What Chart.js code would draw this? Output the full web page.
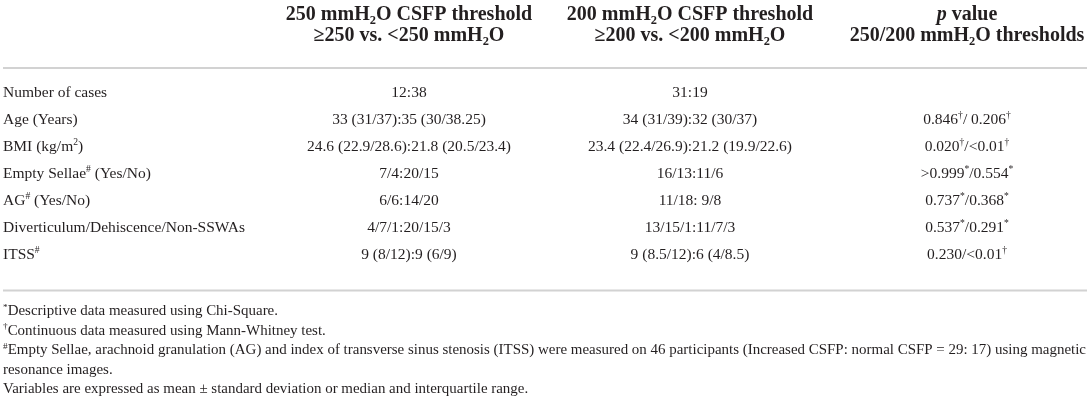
<!DOCTYPE html>
<html>
<head>
<meta charset="utf-8">
<script src="https://cdn.jsdelivr.net/npm/chart.js@4.4.1/dist/chart.umd.min.js"></script>
<style>
  html, body { margin: 0; padding: 0; background: #fff; }
  #wrap { width: 1091px; height: 402px; position: relative; }
</style>
</head>
<body>
<div id="wrap"><canvas id="tbl"></canvas></div>
<script>
// table content ({^x} = superscript, {_x} = subscript, {~x} = italic)
var rowLabels = [
  'Number of cases',
  'Age (Years)',
  'BMI (kg/m{^2})',
  'Empty Sellae{^#} (Yes/No)',
  'AG{^#} (Yes/No)',
  'Diverticulum/Dehiscence/Non-SSWAs',
  'ITSS{^#}'
];
var csfp250 = [
  '12:38',
  '33 (31/37):35 (30/38.25)',
  '24.6 (22.9/28.6):21.8 (20.5/23.4)',
  '7/4:20/15',
  '6/6:14/20',
  '4/7/1:20/15/3',
  '9 (8/12):9 (6/9)'
];
var csfp200 = [
  '31:19',
  '34 (31/39):32 (30/37)',
  '23.4 (22.4/26.9):21.2 (19.9/22.6)',
  '16/13:11/6',
  '11/18: 9/8',
  '13/15/1:11/7/3',
  '9 (8.5/12):6 (4/8.5)'
];
var pValues = [
  '',
  '0.846{^†}/ 0.206{^†}',
  '0.020{^†}/<0.01{^†}',
  '>0.999{^*}/0.554{^*}',
  '0.737{^*}/0.368{^*}',
  '0.537{^*}/0.291{^*}',
  '0.230/<0.01{^†}'
];
var headLine1 = ['250 mmH{_2}O CSFP threshold', '200 mmH{_2}O CSFP threshold', '{~p} value'];
var headLine2 = ['≥250 vs. <250 mmH{_2}O', '≥200 vs. <200 mmH{_2}O', '250/200 mmH{_2}O thresholds'];
var footnotes = [
  '{^*}Descriptive data measured using Chi-Square.',
  '{^†}Continuous data measured using Mann-Whitney test.',
  '{^#}Empty Sellae, arachnoid granulation (AG) and index of transverse sinus stenosis (ITSS) were measured on 46 participants (Increased CSFP: normal CSFP = 29: 17) using magnetic',
  'resonance images.',
  'Variables are expressed as mean ± standard deviation or median and interquartile range.'
];

// layout / style
var FAMILY = "'Liberation Serif', 'DejaVu Serif', serif";
var INK = '#231f20';
var colX = [3, 409, 690, 967];
var bodySize = 15.5, headSize = 20, footSize = 14;
var headBase = [20, 41];
var ruleY = [68, 290.5];
var footBase = [315, 334.5, 354, 373.5, 393];

function parseRich(str) {
  var runs = [], re = /\{([\^_~])([^}]*)\}/g, last = 0, m;
  while ((m = re.exec(str)) !== null) {
    if (m.index > last) runs.push({ t: str.slice(last, m.index), k: '' });
    runs.push({ t: m[2], k: m[1] });
    last = re.lastIndex;
  }
  if (last < str.length) runs.push({ t: str.slice(last), k: '' });
  return runs;
}

function runFont(k, size, bold) {
  var s = (k === '^' || k === '_') ? size * 0.62 : size;
  return (k === '~' ? 'italic ' : '') + (bold ? 'bold ' : '') + s + 'px ' + FAMILY;
}

function richWidth(ctx, str, size, bold) {
  var w = 0;
  parseRich(str).forEach(function(r) {
    ctx.font = runFont(r.k, size, bold);
    w += ctx.measureText(r.t).width;
  });
  return w;
}

function drawRich(ctx, str, x, y, size, bold, align) {
  var runs = parseRich(str);
  var cx = align === 'center' ? x - richWidth(ctx, str, size, bold) / 2 : x;
  ctx.textBaseline = 'alphabetic';
  ctx.textAlign = 'left';
  runs.forEach(function(r) {
    ctx.font = runFont(r.k, size, bold);
    var dy = r.k === '^' ? -size * 0.36 : (r.k === '_' ? size * 0.22 : 0);
    ctx.fillText(r.t, cx, y + dy);
    cx += ctx.measureText(r.t).width;
  });
}

var tablePlugin = {
  id: 'tableText',
  beforeDraw: function(chart) {
    var ctx = chart.ctx;
    ctx.save();
    ctx.fillStyle = '#fff';
    ctx.fillRect(0, 0, chart.width, chart.height);
    ctx.restore();
  },
  afterDatasetsDraw: function(chart) {
    var ctx = chart.ctx;
    ctx.save();
    ctx.fillStyle = INK;

    // column headings
    for (var c = 0; c < headLine1.length; c++) {
      drawRich(ctx, headLine1[c], colX[c + 1], headBase[0], headSize, true, 'center');
      drawRich(ctx, headLine2[c], colX[c + 1], headBase[1], headSize, true, 'center');
    }

    // rules
    ctx.strokeStyle = '#d2d2d2';
    ctx.lineWidth = 2;
    ruleY.forEach(function(y) {
      ctx.beginPath();
      ctx.moveTo(3, y);
      ctx.lineTo(1087, y);
      ctx.stroke();
    });

    // body cells, anchored on the dataset points
    chart.data.datasets.forEach(function(ds, i) {
      var meta = chart.getDatasetMeta(i);
      meta.data.forEach(function(pt, j) {
        drawRich(ctx, ds.texts[j], pt.x, pt.y, bodySize, false, i === 0 ? 'left' : 'center');
      });
    });

    // footnotes, condensed to the table width
    var longest = 0;
    footnotes.forEach(function(f) { longest = Math.max(longest, richWidth(ctx, f, footSize, false)); });
    var sx = 1083 / longest;
    footnotes.forEach(function(f, k) {
      ctx.save();
      ctx.translate(3, footBase[k]);
      ctx.scale(sx, 1);
      drawRich(ctx, f, 0, 0, footSize, false, 'left');
      ctx.restore();
    });
    ctx.restore();
  }
};

function column(texts, c) {
  return {
    label: 'col' + c,
    texts: texts,
    data: texts.map(function(t, i) { return { x: colX[c], y: i }; }),
    pointRadius: 0,
    showLine: false
  };
}

new Chart(document.getElementById('tbl').getContext('2d'), {
  type: 'scatter',
  data: {
    datasets: [column(rowLabels, 0), column(csfp250, 1), column(csfp200, 2), column(pValues, 3)]
  },
  options: {
    responsive: true,
    maintainAspectRatio: false,
    animation: false,
    events: [],
    layout: { padding: { top: 83.5, bottom: 129.5, left: 0, right: 0 } },
    plugins: { legend: { display: false }, tooltip: { enabled: false } },
    scales: {
      x: { type: 'linear', min: 0, max: 1091, display: false },
      y: { type: 'linear', reverse: true, min: -0.5, max: 6.5, display: false }
    }
  },
  plugins: [tablePlugin]
});
</script>
</body>
</html>
